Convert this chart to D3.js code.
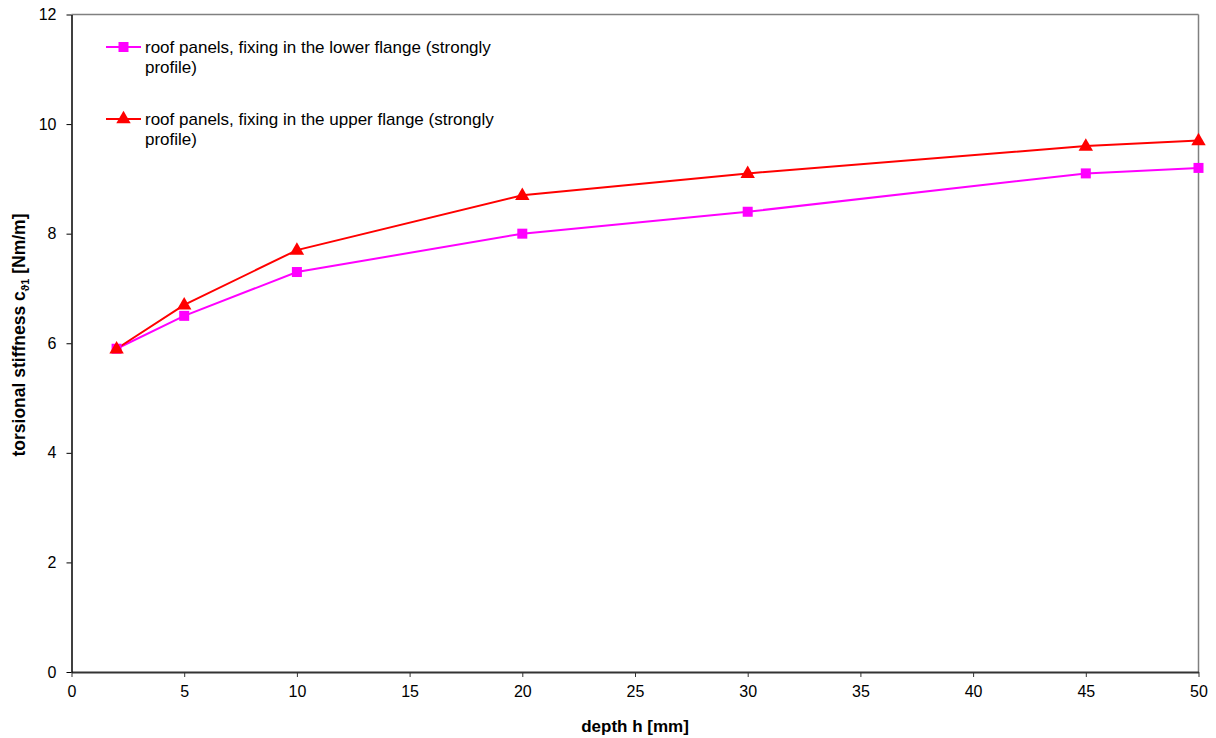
<!DOCTYPE html>
<html><head><meta charset="utf-8">
<script src="https://cdn.jsdelivr.net/npm/d3@7"></script>
<style>body{margin:0;background:#fff}svg{display:block;font-family:Arial,"Liberation Sans",sans-serif}</style>
</head><body>
<svg id="c" width="1216" height="738"></svg>
<script>
const depth = [2, 5, 10, 20, 30, 45, 50];
const lowerFlange = [5.9, 6.5, 7.3, 8.0, 8.4, 9.1, 9.2];
const upperFlange = [5.9, 6.7, 7.7, 8.7, 9.1, 9.6, 9.7];
const xTicks = [0, 5, 10, 15, 20, 25, 30, 35, 40, 45, 50];
const yTicks = [0, 2, 4, 6, 8, 10, 12];
const seriesNames = ["roof panels, fixing in the lower flange (strongly", "roof panels, fixing in the upper flange (strongly"];

const svg = d3.select("#c");
const L = 71.5, R = 1198.5, T = 14.5, B = 672;
const x = d3.scaleLinear().domain([0, 50]).range([L, R]);
const y = d3.scaleLinear().domain([0, 12]).range([B, T]);

svg.append("line").attr("x1", L).attr("x2", R).attr("y1", T).attr("y2", T).attr("stroke", "#808080").attr("stroke-width", 1.5);
svg.append("line").attr("x1", R).attr("x2", R).attr("y1", T).attr("y2", B).attr("stroke", "#808080").attr("stroke-width", 1.5);

const xa = svg.append("g").attr("transform", `translate(0,${B})`)
  .call(d3.axisBottom(x).tickValues(xTicks).tickSize(5).tickSizeOuter(0).tickPadding(9));
xa.select(".domain").attr("stroke", "#333").attr("stroke-width", 2);
xa.selectAll(".tick line").attr("stroke", "#333");
xa.selectAll("text").attr("font-size", 16).attr("fill", "#000").attr("font-family", "Arial, Liberation Sans");

const ya = svg.append("g").attr("transform", `translate(${L},0)`)
  .call(d3.axisLeft(y).tickValues(yTicks).tickSize(5).tickSizeOuter(0).tickPadding(10));
ya.select(".domain").attr("stroke", "#000").attr("stroke-width", 1.5);
ya.selectAll(".tick line").attr("stroke", "#000");
ya.selectAll("text").attr("font-size", 16).attr("fill", "#000").attr("font-family", "Arial, Liberation Sans");

const line = d3.line().x((d, i) => x(depth[i])).y(d => y(d));
const colors = ["#ff00ff", "#ff0000"];
[lowerFlange, upperFlange].forEach((vals, k) => {
  svg.append("path").datum(vals).attr("d", line).attr("fill", "none").attr("stroke", colors[k]).attr("stroke-width", 2);
});
svg.selectAll(".sq").data(lowerFlange).join("rect")
  .attr("x", (d, i) => x(depth[i]) - 5).attr("y", d => y(d) - 5).attr("width", 10).attr("height", 10).attr("fill", "#ff00ff");
const tri = d3.symbol().type(d3.symbolTriangle).size(90);
svg.selectAll(".tr").data(upperFlange).join("path")
  .attr("d", tri).attr("transform", (d, i) => `translate(${x(depth[i])},${y(d) + 0.5})`).attr("fill", "#ff0000");

const leg = [{y: 47}, {y: 119}];
leg.forEach((l, k) => {
  svg.append("line").attr("x1", 106).attr("x2", 141).attr("y1", l.y).attr("y2", l.y).attr("stroke", colors[k]).attr("stroke-width", 2);
  if (k === 0) svg.append("rect").attr("x", 118.5).attr("y", l.y - 5).attr("width", 10).attr("height", 10).attr("fill", colors[k]);
  else svg.append("path").attr("d", tri).attr("transform", `translate(123.5,${l.y})`).attr("fill", colors[k]);
  const t = svg.append("text").attr("x", 145).attr("y", l.y + 6).attr("font-size", 17).attr("fill", "#000");
  t.append("tspan").text(seriesNames[k]);
  t.append("tspan").attr("x", 145).attr("dy", 20).text("profile)");
});

svg.append("text").attr("x", (L + R) / 2).attr("y", 732).attr("text-anchor", "middle")
  .attr("font-size", 17).attr("font-weight", "bold").text("depth h [mm]");
const yt = svg.append("text").attr("transform", `translate(25,335) rotate(-90)`).attr("text-anchor", "middle")
  .attr("font-size", 17.5).attr("font-weight", "bold");
yt.append("tspan").text("torsional stiffness c");
yt.append("tspan").attr("font-size", 11).attr("dy", 4).text("ϑ1");
yt.append("tspan").attr("dy", -4).text(" [Nm/m]");
</script>
</body></html>
